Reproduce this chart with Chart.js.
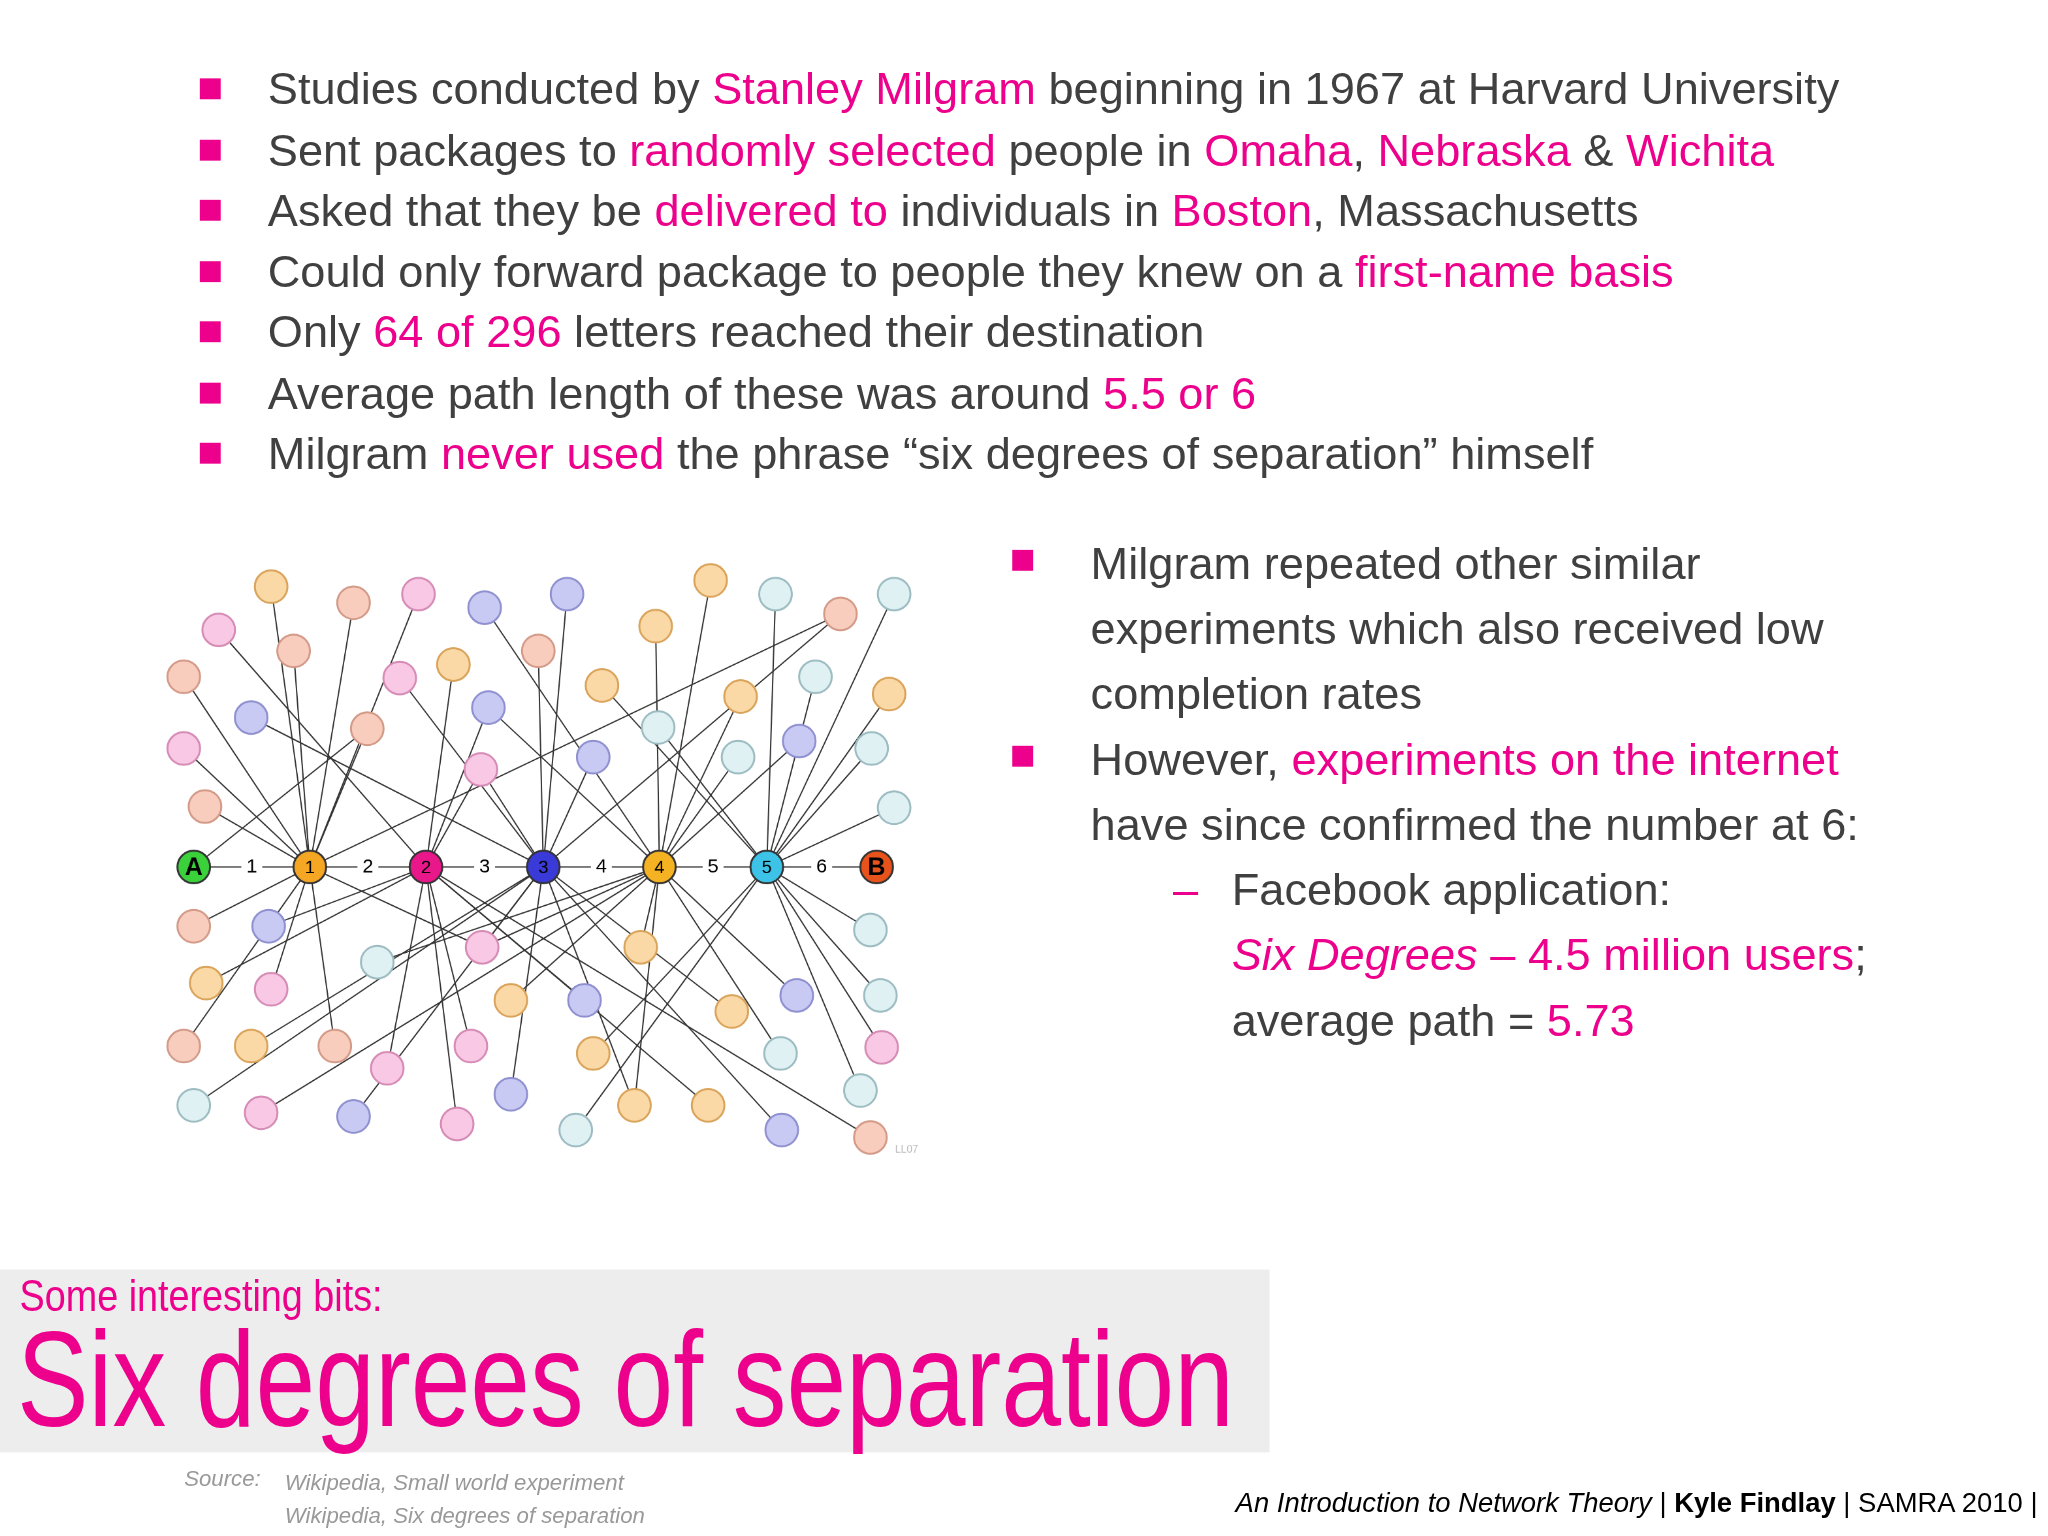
<!DOCTYPE html>
<html><head><meta charset="utf-8">
<script src="https://cdn.jsdelivr.net/npm/chart.js@4"></script>
<style>
html,body{margin:0;padding:0;background:#fff;width:2048px;height:1536px;overflow:hidden}
#wrap{position:absolute;left:0;top:0;width:1568px;height:1176px;transform:scale(1.30612);transform-origin:0 0;font-family:"Liberation Sans",Arial,sans-serif;color:#404040}
.p{color:#ec008c}
.b{position:absolute;left:205px;font-size:34.6px;white-space:nowrap;line-height:40px}
.sq{position:absolute;width:16px;height:16px;background:#ec008c}
.r{position:absolute;left:835px;font-size:34.6px;white-space:nowrap;line-height:40px}
#chartBox{position:absolute;left:98px;top:403px;width:634px;height:514px}
</style></head><body>
<div id="wrap">
<div class="sq" style="left:153px;top:60px"></div><div class="b" style="top:48px">Studies conducted by <span class="p">Stanley Milgram</span> beginning in 1967 at Harvard University</div>
<div class="sq" style="left:153px;top:107px"></div><div class="b" style="top:95px">Sent packages to <span class="p">randomly selected</span> people in <span class="p">Omaha</span>, <span class="p">Nebraska</span> &amp; <span class="p">Wichita</span></div>
<div class="sq" style="left:153px;top:153px"></div><div class="b" style="top:141px">Asked that they be <span class="p">delivered to</span> individuals in <span class="p">Boston</span>, Massachusetts</div>
<div class="sq" style="left:153px;top:200px"></div><div class="b" style="top:188px">Could only forward package to people they knew on a <span class="p">first-name basis</span></div>
<div class="sq" style="left:153px;top:246px"></div><div class="b" style="top:234px">Only <span class="p">64 of 296</span> letters reached their destination</div>
<div class="sq" style="left:153px;top:293px"></div><div class="b" style="top:281px">Average path length of these was around <span class="p">5.5 or 6</span></div>
<div class="sq" style="left:153px;top:339px"></div><div class="b" style="top:327px">Milgram <span class="p">never used</span> the phrase “six degrees of separation” himself</div>

<div class="sq" style="left:775px;top:421px"></div><div class="r" style="top:411px">Milgram repeated other similar</div>
<div class="r" style="top:461px">experiments which also received low</div>
<div class="r" style="top:511px">completion rates</div>
<div class="sq" style="left:775px;top:571px"></div><div class="r" style="top:561px">However, <span class="p">experiments on the internet</span></div>
<div class="r" style="top:611px">have since confirmed the number at 6:</div>
<div class="r" style="left:898px;top:661px;color:#ec008c">–</div>
<div class="r" style="left:943px;top:661px">Facebook application:</div>
<div class="r" style="left:943px;top:711px"><span class="p"><i>Six Degrees</i> – 4.5 million users</span>;</div>
<div class="r" style="left:943px;top:761px">average path = <span class="p">5.73</span></div>

<div id="chartBox"><canvas id="c"></canvas></div>

<div style="position:absolute;left:0;top:972px;width:972px;height:140px;background:#ededed"></div>
<div style="position:absolute;left:15px;top:973px;font-size:34px;color:#ec008c;font-family:'Liberation Sans';transform:scaleX(0.85);transform-origin:0 0;white-space:nowrap">Some interesting bits:</div>
<div style="position:absolute;left:13px;top:997px;font-size:104px;color:#ec008c;font-family:'Liberation Sans';transform:scaleX(0.79);transform-origin:0 0;white-space:nowrap">Six degrees of separation</div>
<div style="position:absolute;left:141px;top:1123px;font-size:17px;color:#999;font-style:italic">Source:</div>
<div style="position:absolute;left:218px;top:1123px;font-size:17px;color:#999;font-style:italic;line-height:25px">Wikipedia, Small world experiment<br>Wikipedia, Six degrees of separation</div>
<div style="position:absolute;right:8px;top:1139px;font-size:21px;color:#000;white-space:nowrap"><i>An Introduction to Network Theory</i> | <b>Kyle Findlay</b> | SAMRA 2010 |</div>
</div>
<script>
// Chain nodes A,1..5,B
const chainX=[136,229,322,416,509,595,683];
const chainY=[664,664,664,664,664,664,664];
const chainLabels=["A","1","2","3","4","5","B"];
const chainColors=["#3ad13a","#f5a623","#e8178a","#3a3ad9","#f5b323","#3ec3e8","#e8531c"];
const edgeLabels=["1","2","3","4","5","6"];
// peripheral nodes: x, y, colour type, hub index (into chain)
const periX=[198,264,316,369,435,550,602,654,697,156,216,301,344,412,506,128,182,372,463,508,574,634,693,128,275,366,456,572,621,679,145,697,
136,196,678,146,198,283,367,494,390,449,567,619,686,128,182,249,291,358,456,606,687,136,190,264,347,390,442,489,548,607,670,678];
const periY=[437,450,443,454,443,432,443,459,443,472,489,511,500,489,469,510,543,535,517,551,526,510,524,568,552,585,575,575,562,568,615,616,
712,712,715,758,763,741,729,729,772,772,781,768,768,809,809,809,827,809,815,815,810,857,863,866,872,848,877,857,857,877,845,883];
const periType=["o","s","p","b","b","o","c","s","c","p","s","p","o","s","o","s","b","b","o","c","o","c","o","p","s","p","b","c","b","c","s","c",
"s","b","c","o","p","c","p","o","o","b","o","b","c","s","o","s","p","p","o","c","p","c","p","b","p","b","c","o","o","b","c","s"];
const periHub=[1,1,1,4,3,4,5,3,5,2,1,3,2,3,4,1,3,4,5,5,4,5,5,1,1,2,3,4,4,5,1,5,
1,2,5,2,1,4,3,4,4,2,3,4,5,1,3,1,2,2,5,4,5,3,4,3,2,3,5,4,2,3,5,2];
const extraEdges=[[24,0],[25,3],[38,1],[38,4],[17,2],[7,1],[59,3]]; // [periIdx, hub]

const fill={o:"#fbd9a6",s:"#f8cdbd",p:"#f8c8e4",b:"#c9caf3",c:"#dff1f3"};
const edge={o:"#d9a35a",s:"#d39a88",p:"#d58bb5",b:"#8f90d0",c:"#9cbcc2"};

const datasets=[];
function line(x1,y1,x2,y2){datasets.push({type:'line',data:[{x:x1,y:y1},{x:x2,y:y2}],borderColor:'#333',borderWidth:1,pointRadius:0,fill:false,order:5});}
for(let i=0;i<periX.length;i++){const h=periHub[i];line(periX[i],periY[i],chainX[h],chainY[h]);}
extraEdges.forEach(([i,h])=>line(periX[i],periY[i],chainX[h],chainY[h]));
for(let i=0;i<6;i++)line(chainX[i],chainY[i],chainX[i+1],chainY[i+1]);
datasets.push({type:'scatter',data:periX.map((x,i)=>({x,y:periY[i]})),pointRadius:12.5,pointBackgroundColor:periType.map(t=>fill[t]),pointBorderColor:periType.map(t=>edge[t]),pointBorderWidth:1.5,order:1});
datasets.push({type:'scatter',data:chainX.map((x,i)=>({x,y:chainY[i]})),pointRadius:12.5,pointBackgroundColor:chainColors,pointBorderColor:'#333',pointBorderWidth:1.5,order:0});

const labelPlugin={id:'lbl',afterDatasetsDraw(ch){
 const c=ch.ctx,xs=ch.scales.x,ys=ch.scales.y;c.save();c.textAlign='center';c.textBaseline='middle';
 c.font='15px "Liberation Sans"';
 for(let i=0;i<6;i++){const mx=xs.getPixelForValue((chainX[i]+chainX[i+1])/2),my=ys.getPixelForValue(chainY[i]);
  c.fillStyle='#fff';c.fillRect(mx-8,my-9,16,18);c.fillStyle='#000';c.fillText(edgeLabels[i],mx,my);}
 for(let i=0;i<7;i++){const px=xs.getPixelForValue(chainX[i]),py=ys.getPixelForValue(chainY[i]);
  const big=(i==0||i==6);c.font=(big?'bold 19px':'14px')+' "Liberation Sans"';c.fillStyle='#000';c.fillText(chainLabels[i],px,py+1);}
 c.font='8px "Liberation Sans"';c.fillStyle='#bbb';c.fillText('LL07',xs.getPixelForValue(707),ys.getPixelForValue(893));
 c.restore();}};

new Chart(document.getElementById('c'),{data:{datasets},plugins:[labelPlugin],
 options:{responsive:true,maintainAspectRatio:false,animation:false,devicePixelRatio:2,
  layout:{padding:0},
  plugins:{legend:{display:false},tooltip:{enabled:false}},
  scales:{x:{type:'linear',min:98,max:732,display:false},y:{type:'linear',min:403,max:917,reverse:true,display:false}}}});
</script>
</body></html>
